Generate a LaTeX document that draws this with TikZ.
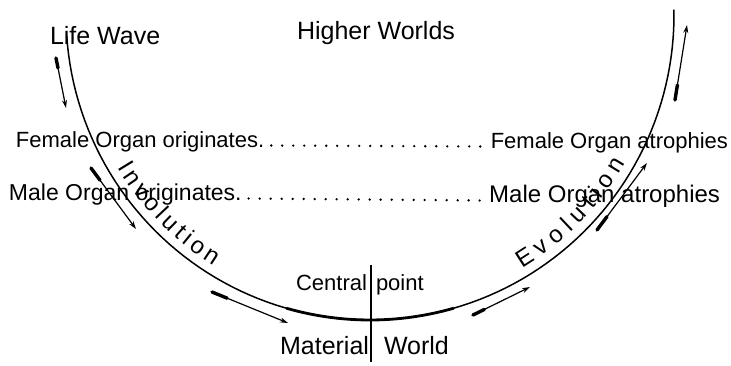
\documentclass[tikz,border=0pt]{standalone}
\usepackage{fontspec}
\setmainfont{Liberation Sans}
\usetikzlibrary{arrows.meta,decorations.text,calc}
\begin{document}
\begin{tikzpicture}[x=1pt,y=1pt,
  lbl/.style={inner sep=0pt, outer sep=0pt, text=black},
  curveline/.style={line width=1.5pt},
  thickline/.style={line width=2.8pt},
  arr/.style={line width=1.2pt, -{Stealth[length=8pt,width=5pt]}},
  blob/.style={line width=3.4pt, line cap=round},
  dotrow/.style={line width=2.6pt, line cap=round, dash pattern=on 0pt off 11pt},
  centreline/.style={line width=1.1pt}
]
\useasboundingbox (0,0) rectangle (731,365);
\fill[white] (0,0) rectangle (731,365);
\coordinate (C) at (370,350);
% main semi-ellipse
\draw[curveline] plot[domain=184:361, samples=100] ({370+304*cos(\x)},{350+305*sin(\x)});
\draw[thickline] plot[domain=254:286, samples=30] ({370+304*cos(\x)},{350+305*sin(\x)});
% central vertical line
\coordinate (vt) at (371,100);
\coordinate (vb) at (371,3);
\draw[centreline] (vt) -- (vb);
% headings
\node[lbl, anchor=base west, font=\fontsize{25}{27}\selectfont] (life) at (50,320) {Life Wave};
\node[lbl, anchor=base, font=\fontsize{25}{27}\selectfont] (higher) at (376,325) {Higher Worlds};
% rows
\node[lbl, anchor=base west, font=\fontsize{22}{24}\selectfont] (fo) at (16,218) {Female Organ originates.};
\node[lbl, anchor=base east, font=\fontsize{22}{24}\selectfont] (fa) at (728,217) {Female Organ atrophies};
\node[lbl, anchor=base west, font=\fontsize{23}{25}\selectfont] (mo) at (9,165) {Male Organ originates.};
\node[lbl, anchor=base east, font=\fontsize{24}{26}\selectfont] (ma) at (720,163) {Male Organ atrophies};
\draw[dotrow] ([xshift=7pt,yshift=1.5pt]fo.base east) -- ([xshift=-6pt,yshift=1.5pt]fa.base west);
\draw[dotrow] ([xshift=7pt,yshift=1.5pt]mo.base east) -- ([xshift=-6pt,yshift=1.5pt]ma.base west);
% bottom labels
\node[lbl, anchor=base east, font=\fontsize{22}{24}\selectfont] (central) at (367,75) {Central};
\node[lbl, anchor=base west, font=\fontsize{22}{24}\selectfont] (point) at (376,75) {point};
\node[lbl, anchor=base east, font=\fontsize{25}{27}\selectfont] (material) at (369,11) {Material};
\node[lbl, anchor=base west, font=\fontsize{25}{27}\selectfont] (world) at (384,11) {World};
% curved words
\path[decorate, decoration={text along path, text={|\fontsize{24}{26}\selectfont|Involution}, text align={fit to path}}]
  ([shift={(C)}]211:295 and 296) arc[start angle=211, end angle=238, x radius=295, y radius=296];
\path[decorate, decoration={text along path, text={|\fontsize{24}{26}\selectfont|Evolution}, text align={fit to path}}]
  ([shift={(C)}]301:295 and 296) arc[start angle=301, end angle=330, x radius=295, y radius=296];
% arrows
\coordinate (a1s) at (56,307);  \coordinate (a1e) at (66,257);
\coordinate (a2s) at (91,197);  \coordinate (a2e) at (136,136);
\coordinate (a3s) at (212,73);  \coordinate (a3e) at (288,42);
\coordinate (a4s) at (473,50);  \coordinate (a4e) at (530,78);
\coordinate (a5s) at (597,135); \coordinate (a5e) at (647,202);
\coordinate (a6s) at (675,265); \coordinate (a6e) at (687,340);
\foreach \i in {1,...,6}{
  \draw[arr] (a\i s) -- (a\i e);
  \draw[blob] (a\i s) -- ($(a\i s)!0.2!(a\i e)$);
}
\end{tikzpicture}
\end{document}
